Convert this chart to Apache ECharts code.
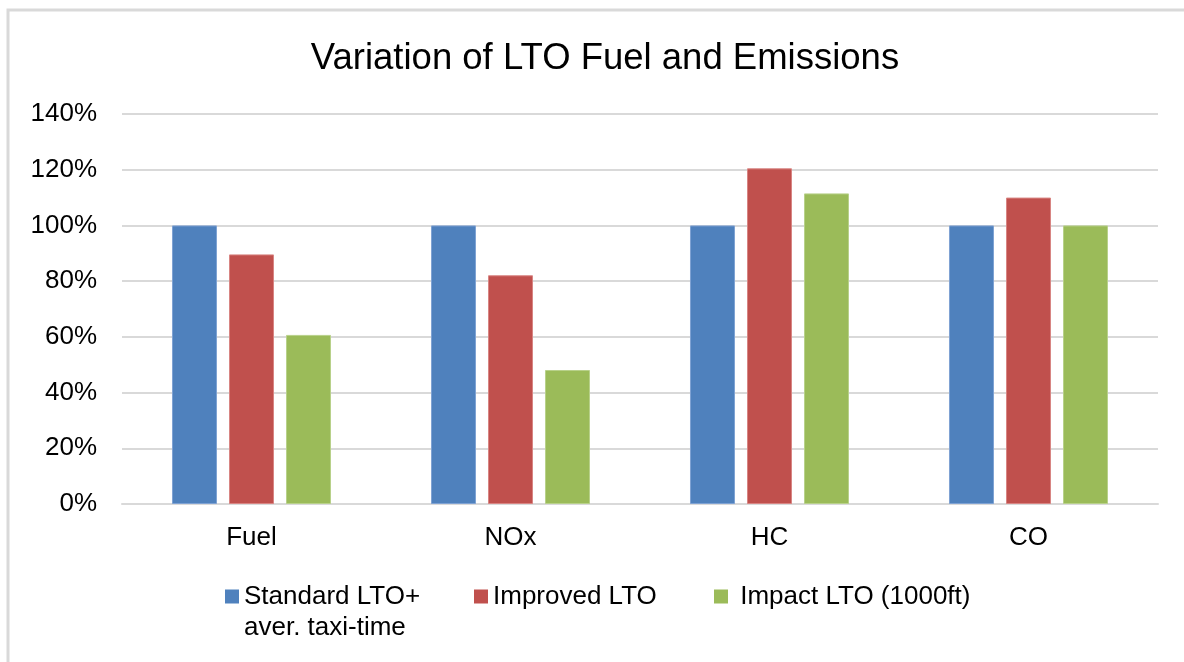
<!DOCTYPE html>
<html>
<head>
<meta charset="utf-8">
<script src="https://cdn.jsdelivr.net/npm/echarts@6/dist/echarts.min.js"></script>
<style>
  html, body { margin: 0; padding: 0; background: #fff; }
  #chart { width: 1184px; height: 662px; }
</style>
</head>
<body>
<div id="chart"></div>
<script>
// Pollutant categories along the x axis
const categories = ['Fuel', 'NOx', 'HC', 'CO'];

// Series names and values (percent of the standard LTO cycle)
const seriesNames = ['Standard LTO+\naver. taxi-time', 'Improved LTO', ' Impact LTO (1000ft)'];
const standardLTO = [100, 100, 100, 100];
const improvedLTO = [89.6, 82.1, 120.5, 110.0];
const impactLTO = [60.7, 48.1, 111.5, 100.0];

// Y axis ticks in percent
const yTicks = [0, 20, 40, 60, 80, 100, 120, 140];

const colors = ['#4F81BD', '#C0504D', '#9BBB59'];
const borders = ['#7FA2D3', '#D88583', '#B8D18A'];
const font = '"Liberation Sans", Arial, sans-serif';

const chart = echarts.init(document.getElementById('chart'), null, { renderer: 'canvas' });

const values = [standardLTO, improvedLTO, impactLTO];
const legendLefts = [225, 474, 714];

// Legend square sits beside the first line of a two-line name:
// a tall icon box with the square drawn in its top part.
const LINE_H = 31;
const tallIcon = 'path://M0,0H14V14H0Z M0,44.99H0.01V45H0Z';

chart.setOption({
  animation: false,
  backgroundColor: '#fff',
  textStyle: { fontFamily: font },
  graphic: [{
    type: 'rect',
    shape: { x: 8, y: 10, width: 1200, height: 700 },
    style: { fill: 'none', stroke: '#D9D9D9', lineWidth: 3 },
    silent: true
  }],
  title: {
    text: 'Variation of LTO Fuel and Emissions',
    left: 600,
    textAlign: 'center',
    top: 35,
    textStyle: { fontFamily: font, fontSize: 36.5, fontWeight: 'normal', color: '#000' }
  },
  legend: seriesNames.map((n, i) => ({
    data: [n],
    left: legendLefts[i],
    top: 581,
    padding: 0,
    itemWidth: 14,
    itemHeight: i === 0 ? 45 : 14,
    itemGap: 0,
    icon: i === 0 ? tallIcon : 'rect',
    itemStyle: { borderWidth: 0 },
    textStyle: { fontFamily: font, fontSize: 26, color: '#000', lineHeight: LINE_H }
  })),
  grid: { left: 122, right: 26, top: 114, bottom: 158, containLabel: false },
  xAxis: {
    type: 'category',
    data: categories,
    axisTick: { show: false },
    axisLine: { lineStyle: { color: '#D9D9D9', width: 2 } },
    axisLabel: { fontFamily: font, fontSize: 26, color: '#000', margin: 21 }
  },
  yAxis: {
    type: 'value',
    min: yTicks[0],
    max: yTicks[yTicks.length - 1],
    interval: yTicks[1] - yTicks[0],
    axisLine: { show: false },
    axisTick: { show: false },
    splitLine: { lineStyle: { color: '#D9D9D9', width: 2 } },
    axisLabel: { fontFamily: font, fontSize: 26, color: '#000', margin: 25, formatter: '{value}%' }
  },
  series: seriesNames.map((n, i) => ({
    name: n,
    type: 'bar',
    data: values[i],
    barWidth: 45,
    barGap: '26.7%',
    itemStyle: { color: colors[i], borderColor: borders[i], borderWidth: 1 }
  }))
});
</script>
</body>
</html>
